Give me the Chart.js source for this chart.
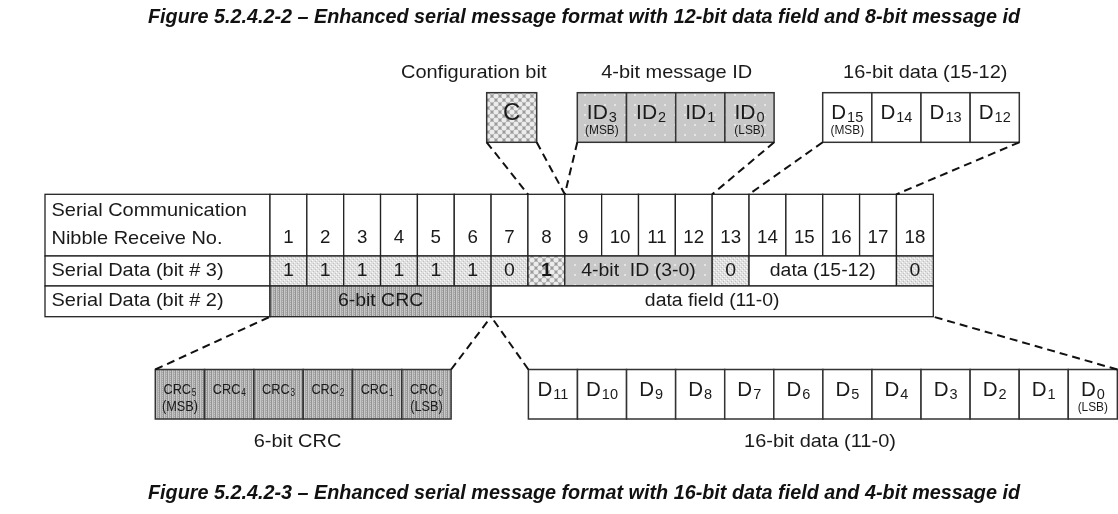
<!DOCTYPE html>
<html lang="en">
<head>
    <meta charset="UTF-8">
    <title>Enhanced serial message format</title>
    <script src="https://cdn.jsdelivr.net/npm/chart.js"></script>
    <style>
        html, body { margin: 0; padding: 0; background: #fff; }
        #chart-container { width: 1118px; height: 514px; }
    </style>
</head>
<body>
<div id="chart-container"><canvas id="chart"></canvas></div>
<script>
// captions
var captionTop = 'Figure 5.2.4.2-2 \u2013 Enhanced serial message format with 12-bit data field and 8-bit message id';
var captionBottom = 'Figure 5.2.4.2-3 \u2013 Enhanced serial message format with 16-bit data field and 4-bit message id';

// table rows
var rowLabels = [['Serial Communication', 'Nibble Receive No.'], ['Serial Data (bit # 3)'], ['Serial Data (bit # 2)']];
var nibbleNos = [1, 2, 3, 4, 5, 6, 7, 8, 9, 10, 11, 12, 13, 14, 15, 16, 17, 18];
// [first nibble, last nibble, text, kind]
var bit3Segments = [
    [1, 1, '1', 'fixed'], [2, 2, '1', 'fixed'], [3, 3, '1', 'fixed'], [4, 4, '1', 'fixed'],
    [5, 5, '1', 'fixed'], [6, 6, '1', 'fixed'], [7, 7, '0', 'fixed'], [8, 8, '1', 'config'],
    [9, 12, '4-bit  ID (3-0)', 'id'], [13, 13, '0', 'fixed'], [14, 17, 'data (15-12)', 'data'],
    [18, 18, '0', 'fixed']
];
var bit2Segments = [[1, 6, '6-bit CRC', 'crc'], [7, 18, 'data field (11-0)', 'data']];

// expanded boxes: [symbol, subscript, note]
var configCells = [['C', '', '']];
var idCells = [['ID', '3', '(MSB)'], ['ID', '2', ''], ['ID', '1', ''], ['ID', '0', '(LSB)']];
var dataHiCells = [['D', '15', '(MSB)'], ['D', '14', ''], ['D', '13', ''], ['D', '12', '']];
var crcCells = [['CRC', '5', '(MSB)'], ['CRC', '4', ''], ['CRC', '3', ''], ['CRC', '2', ''], ['CRC', '1', ''], ['CRC', '0', '(LSB)']];
var dataLoCells = [['D', '11', ''], ['D', '10', ''], ['D', '9', ''], ['D', '8', ''], ['D', '7', ''], ['D', '6', ''],
    ['D', '5', ''], ['D', '4', ''], ['D', '3', ''], ['D', '2', ''], ['D', '1', ''], ['D', '0', '(LSB)']];
var boxCells = [configCells, idCells, dataHiCells, crcCells, dataLoCells];
var boxTitles = ['Configuration bit', '4-bit message ID', '16-bit data (15-12)', '6-bit CRC', '16-bit data (11-0)'];
var boxNibbles = [[8, 8], [9, 12], [14, 17], [1, 6], [7, 18]];
var boxKinds = ['config', 'id', 'data', 'crc', 'data'];

// layout (scale units = page pixels)
var tbl = { left: 45, labelRight: 270, nibbleW: 36.85, rows: [194.3, 256, 286, 316.7] };
var boxLayout = [
    { x0: 486.7, w: 50, top: true, titleX: 473.7, font: 24, sub: 14, stretch: 1 },
    { x0: 577.3, w: 49.2, top: true, titleX: 676.7, font: 21, sub: 14.5, stretch: 1 },
    { x0: 822.7, w: 49.15, top: true, titleX: 925.3, font: 20.5, sub: 14.5, stretch: 1 },
    { x0: 155.3, w: 49.3, top: false, titleX: 297.5, font: 15.5, sub: 10, stretch: 0.82 },
    { x0: 528.4, w: 49.08, top: false, titleX: 820, font: 20.5, sub: 14.5, stretch: 1 }
];
var topBox = [92.7, 142.3], botBox = [369.5, 419];
var FONT = '"Liberation Sans", Arial, sans-serif';
var WIDE = 1.08;

function nibX(n) { return tbl.labelRight + (n - 1) * tbl.nibbleW; }

function makePatterns(ctx) {
    function pat(w, h, draw) {
        var c = document.createElement('canvas');
        c.width = w; c.height = h;
        draw(c.getContext('2d'));
        return ctx.createPattern(c, 'repeat');
    }
    return {
        data: '#ffffff',
        fixed: pat(4, 4, function (g) {
            g.fillStyle = '#e0e0e0'; g.fillRect(0, 0, 4, 4);
            g.fillStyle = '#fafafa'; g.fillRect(0, 0, 1, 1); g.fillRect(2, 2, 1, 1);
            g.fillStyle = '#c0c0c0'; g.fillRect(1, 3, 1, 1); g.fillRect(3, 1, 1, 1);
        }),
        config: pat(8, 8, function (g) {
            g.fillStyle = '#9a9a9a'; g.fillRect(0, 0, 8, 8);
            g.fillStyle = '#ececec';
            [[4, 4], [0, 0], [8, 0], [0, 8], [8, 8]].forEach(function (p) {
                g.beginPath(); g.arc(p[0], p[1], 2.6, 0, Math.PI * 2); g.fill();
            });
        }),
        id: pat(10, 10, function (g) {
            g.fillStyle = '#c8c8c8'; g.fillRect(0, 0, 10, 10);
            g.fillStyle = '#e4e4e4'; g.fillRect(4, 4, 2, 2);
        }),
        crc: pat(4, 4, function (g) {
            g.fillStyle = '#a8a8a8'; g.fillRect(0, 0, 4, 4);
            g.fillStyle = '#c8c8c8'; g.fillRect(0, 0, 1, 4); g.fillRect(2, 1, 1, 1); g.fillRect(2, 3, 1, 1);
            g.fillStyle = '#939393'; g.fillRect(3, 0, 1, 4);
        })
    };
}

// dashed connectors from each box to the nibbles it expands
var connectorSets = [];
boxLayout.forEach(function (b, i) {
    var n = boxNibbles[i];
    var bx1 = b.x0 + b.w * boxCells[i].length;
    var by = b.top ? topBox[1] : botBox[0];
    var ty = b.top ? tbl.rows[0] : tbl.rows[3];
    [[b.x0, nibX(n[0])], [bx1, nibX(n[1] + 1)]].forEach(function (p) {
        connectorSets.push({
            data: [{ x: p[0], y: by }, { x: p[1], y: ty }],
            showLine: true, borderColor: '#111', borderWidth: 2, borderDash: [8, 5],
            pointRadius: 0, fill: false
        });
    });
});

var patterns = null;

function rect(ctx, chart, x0, y0, x1, y1, fill, stroke, lw) {
    var sx = chart.scales.x, sy = chart.scales.y;
    var a = sx.getPixelForValue(x0), b = sy.getPixelForValue(y0);
    var c = sx.getPixelForValue(x1), d = sy.getPixelForValue(y1);
    if (fill) { ctx.fillStyle = fill; ctx.fillRect(a, b, c - a, d - b); }
    ctx.strokeStyle = stroke; ctx.lineWidth = lw;
    ctx.strokeRect(a, b, c - a, d - b);
}

function text(ctx, chart, str, x, y, size, align, style, stretch) {
    ctx.save();
    ctx.font = (style || '') + ' ' + size + 'px ' + FONT;
    ctx.textAlign = align || 'center';
    ctx.textBaseline = 'middle';
    ctx.fillStyle = '#1a1a1a';
    ctx.translate(chart.scales.x.getPixelForValue(x), chart.scales.y.getPixelForValue(y));
    ctx.scale(stretch || WIDE, 1);
    ctx.fillText(str, 0, 0);
    ctx.restore();
}

function symbol(ctx, chart, main, sub, cx, cy, size, subSize, stretch) {
    ctx.save();
    ctx.font = size + 'px ' + FONT;
    var w1 = ctx.measureText(main).width;
    ctx.font = subSize + 'px ' + FONT;
    var w2 = sub ? ctx.measureText(sub).width + 1 : 0;
    ctx.translate(chart.scales.x.getPixelForValue(cx), chart.scales.y.getPixelForValue(cy) + size * 0.36);
    ctx.scale(stretch, 1);
    var x = -(w1 + w2) / 2;
    ctx.fillStyle = '#1a1a1a';
    ctx.textAlign = 'left';
    ctx.textBaseline = 'alphabetic';
    ctx.font = size + 'px ' + FONT;
    ctx.fillText(main, x, 0);
    if (sub) {
        ctx.font = subSize + 'px ' + FONT;
        ctx.fillText(sub, x + w1 + 1, size * 0.14);
    }
    ctx.restore();
}

function caption(ctx, chart, str, y) {
    ctx.save();
    ctx.font = 'italic bold 19.5px ' + FONT;
    var w = ctx.measureText(str).width;
    var s = (chart.scales.x.getPixelForValue(1020) - chart.scales.x.getPixelForValue(148)) / w;
    ctx.translate(chart.scales.x.getPixelForValue(584), chart.scales.y.getPixelForValue(y));
    ctx.scale(s, 1);
    ctx.fillStyle = '#111';
    ctx.textAlign = 'center';
    ctx.textBaseline = 'middle';
    ctx.fillText(str, 0, 0);
    ctx.restore();
}

var diagramPlugin = {
    id: 'diagram',
    beforeDatasetsDraw: function (chart) {
        var ctx = chart.ctx;
        if (!patterns) patterns = makePatterns(ctx);
        ctx.save();
        var r = tbl.rows, line = '#222', lw = 1.3;
        // label column
        for (var i = 0; i < 3; i++) rect(ctx, chart, tbl.left, r[i], tbl.labelRight, r[i + 1], '#fff', line, lw);
        // nibble numbers
        nibbleNos.forEach(function (n) { rect(ctx, chart, nibX(n), r[0], nibX(n + 1), r[1], '#fff', line, lw); });
        bit3Segments.forEach(function (s) { rect(ctx, chart, nibX(s[0]), r[1], nibX(s[1] + 1), r[2], patterns[s[3]], line, lw); });
        bit2Segments.forEach(function (s) { rect(ctx, chart, nibX(s[0]), r[2], nibX(s[1] + 1), r[3], patterns[s[3]], line, lw); });
        // expanded boxes
        boxLayout.forEach(function (b, i) {
            var yy = b.top ? topBox : botBox;
            boxCells[i].forEach(function (c, k) {
                rect(ctx, chart, b.x0 + k * b.w, yy[0], b.x0 + (k + 1) * b.w, yy[1], patterns[boxKinds[i]], '#333', 1.5);
            });
        });
        ctx.restore();
    },
    afterDatasetsDraw: function (chart) {
        var ctx = chart.ctx, r = tbl.rows;
        ctx.save();
        caption(ctx, chart, captionTop, 17.5);
        caption(ctx, chart, captionBottom, 494);
        // row labels
        text(ctx, chart, rowLabels[0][0], 51.5, 211, 18.5, 'left');
        text(ctx, chart, rowLabels[0][1], 51.5, 238.5, 18.5, 'left');
        text(ctx, chart, rowLabels[1][0], 51.5, (r[1] + r[2]) / 2, 18.5, 'left');
        text(ctx, chart, rowLabels[2][0], 51.5, (r[2] + r[3]) / 2, 18.5, 'left');
        nibbleNos.forEach(function (n) { text(ctx, chart, String(n), (nibX(n) + nibX(n + 1)) / 2, 238.5, 18, 'center', '', 1.04); });
        bit3Segments.forEach(function (s) {
            text(ctx, chart, s[2], (nibX(s[0]) + nibX(s[1] + 1)) / 2, (r[1] + r[2]) / 2, 18, 'center', s[3] === 'config' ? 'bold' : '');
        });
        bit2Segments.forEach(function (s) { text(ctx, chart, s[2], (nibX(s[0]) + nibX(s[1] + 1)) / 2, (r[2] + r[3]) / 2, 18); });
        // boxes
        boxLayout.forEach(function (b, i) {
            var yy = b.top ? topBox : botBox, h = yy[1] - yy[0];
            text(ctx, chart, boxTitles[i], b.titleX, b.top ? 73 : 441.5, 18.5);
            boxCells[i].forEach(function (c, k) {
                var cx = b.x0 + (k + 0.5) * b.w;
                symbol(ctx, chart, c[0], c[1], cx, yy[0] + h * 0.38, b.font, b.sub, b.stretch);
                if (c[2]) text(ctx, chart, c[2], cx, yy[0] + h * 0.76, b.font < 16 ? 15 : 12.5, 'center', '', b.font < 16 ? 0.85 : 0.95);
            });
        });
        ctx.restore();
    }
};

var chart = new Chart(document.getElementById('chart').getContext('2d'), {
    type: 'scatter',
    data: { datasets: connectorSets },
    options: {
        responsive: true,
        maintainAspectRatio: false,
        animation: false,
        events: [],
        layout: { padding: 0 },
        plugins: { legend: { display: false }, tooltip: { enabled: false } },
        scales: {
            x: { type: 'linear', min: 0, max: 1118, display: false },
            y: { type: 'linear', min: 0, max: 514, reverse: true, display: false }
        }
    },
    plugins: [diagramPlugin]
});
</script>
</body>
</html>
